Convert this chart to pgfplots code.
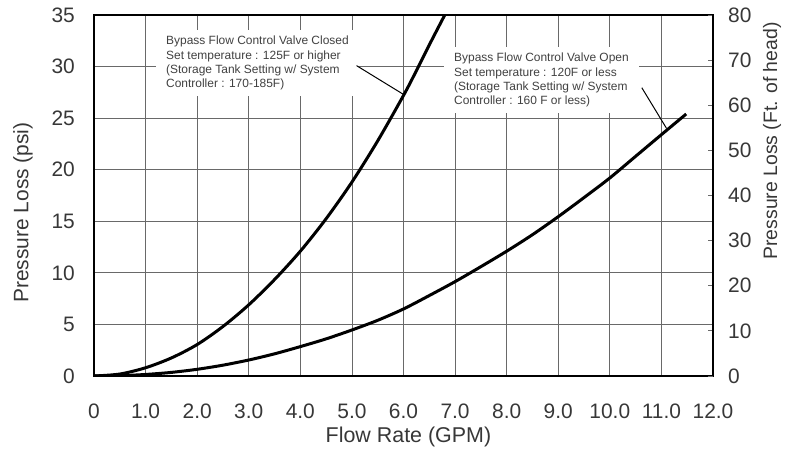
\documentclass[border=0pt]{standalone}
\usepackage{fontspec}
\setmainfont{Liberation Sans}
\usepackage{pgfplots}
\pgfplotsset{compat=1.18}

\definecolor{txt}{RGB}{55,55,55}
\definecolor{gridc}{RGB}{105,105,105}
\definecolor{notec}{RGB}{65,65,65}

\begin{document}
\begin{tikzpicture}
\path[use as bounding box] (-94bp,-74bp) rectangle (691bp,376bp);

% left axis: psi, grid and curves
\begin{axis}[
    at={(0,0)}, anchor=south west,
    scale only axis, width=619bp, height=361bp,
    xmin=0, xmax=12, ymin=0, ymax=35,
    xtick={0,1,...,12},
    xticklabels={0,1.0,2.0,3.0,4.0,5.0,6.0,7.0,8.0,9.0,10.0,11.0,12.0},
    ytick={0,5,...,35},
    /pgf/number format/assume math mode=true,
    grid=major,
    major grid style={gridc, line width=0.8bp},
    tick style={draw=none},
    axis line style={line width=2.6bp, black},
    ticklabel style={font=\fontsize{21}{25}\selectfont, text=txt},
    xticklabel style={inner sep=0pt, anchor=base, yshift=-42bp},
    yticklabel style={inner sep=0pt, anchor=east, xshift=-19bp},
    label style={font=\fontsize{21.5}{25}\selectfont, text=txt},
    xlabel={Flow Rate (GPM)},
    xlabel style={at={([yshift=-66bp]axis description cs:0.508,0)}, anchor=base},
    ylabel={Pressure Loss (psi)},
    ylabel style={font=\fontsize{21}{25}\selectfont, at={([xshift=-65.5bp]axis description cs:0,0.453)}, anchor=base},
    clip=true,
]
% Bypass valve closed
\addplot[line width=3bp, black, smooth] coordinates {
    (0,0) (0.5,0.19) (1,0.8) (1.5,1.75) (2,3.05) (2.5,4.8) (3,6.9)
    (3.5,9.35) (4,12.1) (4.5,15.25) (5,18.8) (5.5,22.8) (6,27.2)
    (6.25,29.6) (6.5,32.1) (6.8,35)
};
% Bypass valve open
\addplot[line width=3bp, black, smooth] coordinates {
    (0,0) (0.5,0.03) (1,0.15) (1.5,0.35) (2,0.65) (2.5,1.05) (3,1.55)
    (3.5,2.15) (4,2.85) (4.5,3.6) (5,4.46) (5.5,5.4) (6,6.5) (6.5,7.8)
    (7,9.15) (7.5,10.6) (8,12.1) (8.5,13.7) (9,15.45) (9.5,17.3)
    (10,19.2) (10.5,21.3) (11,23.4) (11.48,25.4)
};

\node[fill=white, inner xsep=10bp, inner ysep=6bp, anchor=north west, align=left,
      text=notec, font=\fontsize{12}{14.4}\selectfont]
    at (axis cs:1.202,33.55)
    {Bypass Flow Control Valve Closed\\Set temperature : 125F or higher\\(Storage Tank Setting w/ System\\Controller : 170-185F)};
\draw[line width=1bp, black] (axis cs:5.09,30.09) -- (axis cs:6.0,27.3);

\node[fill=white, inner xsep=10bp, inner ysep=6bp, anchor=north west, align=left,
      text=notec, font=\fontsize{12}{14.4}\selectfont]
    at (axis cs:6.785,31.9)
    {Bypass Flow Control Valve Open\\Set temperature : 120F or less\\(Storage Tank Setting w/ System\\Controller : 160 F or less)};
\draw[line width=1bp, black] (axis cs:10.62,27.95) -- (axis cs:11.10,24.0);
\end{axis}

% right axis: feet of head
\begin{axis}[
    at={(0,0)}, anchor=south west,
    scale only axis, width=619bp, height=361bp,
    xmin=0, xmax=12, ymin=0, ymax=80,
    axis x line=none, axis y line*=right,
    y axis line style={line width=2.6bp, black, -},
    ytick={0,10,...,80},
    /pgf/number format/assume math mode=true,
    tick align=inside, major tick length=5bp,
    ytick style={gridc, line width=0.8bp},
    ticklabel style={font=\fontsize{21}{25}\selectfont, text=txt},
    yticklabel style={inner sep=0pt, anchor=west, xshift=15bp},
    label style={font=\fontsize{19.5}{24}\selectfont, text=txt},
    ylabel={Pressure Loss (Ft. of head)},
    ylabel style={at={([xshift=64bp]axis description cs:1,0.651)}, anchor=base},
]
\end{axis}
\end{tikzpicture}
\end{document}
